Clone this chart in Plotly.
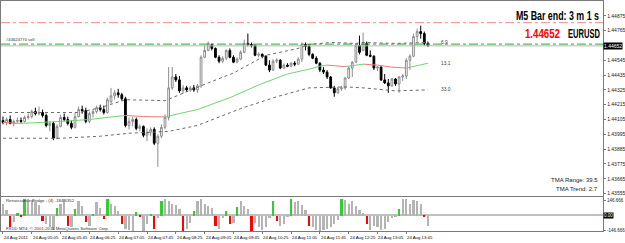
import json
import plotly.graph_objects as go
import numpy as np

# ---------------- data (prices in points, 1e-5) ----------------
open_pts = [144098,144083,144105,144076,144091,144098,144091,144120,144127,144164,
144149,144157,144135,144061,144076,143966,144054,144120,144105,144076,
144047,144127,144179,144171,144091,144149,144164,144193,144179,144157,
144237,144281,144303,144289,144259,144061,144091,144105,144039,144054,
143988,144010,144032,143929,143981,144047,144120,144340,144421,144399,
144318,144340,144325,144340,144325,144355,144567,144618,144662,144633,
144567,144538,144560,144618,144567,144531,144553,144604,144670,144662,
144655,144582,144589,144575,144509,144472,144538,144545,144487,144509,
144501,144523,144516,144553,144662,144648,144589,144560,144523,144472,
144457,144421,144340,144303,144333,144340,144413,144487,144531,144655,
144618,144670,144582,144575,144487,144494,144399,144377,144355,144406,
144369,144421,144428,144545,144575,144721,144758,144743,144670]
high_pts = [144127,144120,144135,144105,144120,144120,144135,144149,144179,144193,
144201,144179,144149,144091,144091,144069,144142,144149,144127,144098,
144157,144201,144208,144193,144164,144179,144208,144215,144208,144267,
144340,144325,144333,144303,144274,144120,144127,144120,144069,144061,
144039,144047,144047,143995,144069,144142,144494,144494,144443,144428,
144362,144355,144355,144362,144369,144582,144655,144684,144670,144640,
144582,144575,144626,144633,144582,144567,144618,144699,144743,144677,
144662,144604,144597,144582,144545,144553,144560,144553,144523,144523,
144531,144538,144567,144677,144677,144662,144597,144575,144531,144494,
144472,144428,144355,144347,144355,144421,144501,144538,144670,144728,
144750,144684,144618,144582,144501,144501,144443,144406,144413,144413,
144428,144443,144560,144589,144743,144780,144802,144758,144684]
low_pts = [144069,144061,144069,144054,144076,144076,144083,144105,144113,144135,
144135,144120,144047,144017,143951,143959,144047,144091,144061,144032,
144039,144120,144149,144076,144076,144120,144149,144164,144142,144149,
144223,144252,144267,144245,144047,144032,144054,144025,144017,143973,
143944,143981,143915,143754,143966,144032,144098,144325,144384,144303,
144296,144311,144311,144311,144303,144340,144560,144611,144618,144560,
144523,144523,144545,144560,144523,144523,144545,144597,144648,144640,
144575,144567,144560,144501,144457,144465,144523,144479,144479,144494,
144494,144501,144509,144531,144618,144575,144553,144516,144457,144443,
144406,144333,144274,144296,144318,144325,144406,144421,144523,144589,
144611,144575,144567,144472,144465,144391,144369,144303,144347,144355,
144303,144391,144406,144472,144567,144677,144706,144655,144648]
close_pts = [144083,144105,144076,144091,144098,144091,144120,144127,144164,144149,
144157,144135,144061,144076,143966,144054,144120,144105,144076,144047,
144127,144179,144171,144091,144149,144164,144193,144179,144157,144252,
144281,144303,144289,144259,144061,144091,144105,144039,144054,143988,
144010,144032,143929,143981,144047,144120,144340,144421,144399,144318,
144340,144325,144340,144325,144355,144567,144618,144670,144633,144567,
144538,144560,144618,144567,144531,144553,144604,144670,144662,144655,
144582,144589,144575,144509,144472,144538,144545,144487,144509,144501,
144523,144516,144553,144662,144648,144589,144560,144523,144472,144457,
144421,144340,144303,144333,144340,144413,144487,144531,144655,144604,
144670,144582,144575,144487,144494,144399,144377,144355,144406,144369,
144421,144428,144545,144575,144721,144758,144743,144670,144652]

hist_vals = [110, 60, -104, -60, 28, -14, 160, 160, 150, 130,
100, -47, -75, -110, -140, 75, 113, 160, -95, -104,
66, 142, 95, -57, -95, 19, 132, 75, -28, 160,
113, 95, 47, -76, -125, -140, -150, 38, -12, -142,
-76, 10, -125, -19, 142, 160, 140, 110, 100, 66,
-150, -125, -66, 47, 140, 160, 110, 90, 70, -95,
-125, -20, 47, -76, -66, 85, 142, 95, 66, -150,
-66, -110, -140, -110, -20, 142, -47, -95, -76, -10,
160, 130, 142, 100, 60, -95, -110, -140, -150, -140,
-125, -110, -76, -40, 160, 150, 110, 142, 95, 60,
30, -76, -140, -95, -104, -140, -125, -60, -20, -10,
66, 160, 160, 110, 150, 140, 110, -14, -95]

mid_idx = [0,4,8,16,24,31,34,39,45,49,54,63,71,79,85,88,90,95,100,104,108,112,115,118]
mid_pts = [144083,144076,144080,144091,144105,144127,144135,144127,144124,144149,144179,144267,
           144362,144443,144479,144501,144509,144498,144516,144509,144494,144487,144505,144523]
up_idx = [0,21,27,34,45,54,57,64,73,82,85,91,98,100,109,118]
up_pts = [144157,144157,144193,144252,144245,144347,144377,144450,144582,144633,144662,144677,
          144670,144677,144670,144677]
lo_idx = [0,16,27,35,46,54,59,66,76,85,95,100,109,118]
lo_pts = [143966,143966,143981,144003,144017,144061,144113,144186,144274,144340,144347,144340,
          144318,144325]
band_labels = ["6.9", "13.1", "33.0"]

price_ticks = [1.44875 - 0.0011 * k for k in range(13)]
time_tick_idx = [0, 8, 16, 24, 32, 40, 48, 56, 64, 72, 80, 88, 96, 104, 112]
time_tick_labels = ["24 Aug 2011", "24 Aug 05:05", "24 Aug 05:45", "24 Aug 06:25", "24 Aug 07:05",
                    "24 Aug 07:45", "24 Aug 08:25", "24 Aug 09:05", "24 Aug 09:45", "24 Aug 10:25",
                    "24 Aug 11:05", "24 Aug 11:45", "24 Aug 12:25", "24 Aug 13:05", "24 Aug 13:45"]
sell_level = 1.44665
red_level = 1.44824
bid = 1.44652
symbol = "EURUSD"
bar_end_text = "M5 Bar end: 3 m 1 s"
tma_range = 39.5
tma_trend = 2.7

# ---------------- build ----------------
S = 1e5
o = np.array(open_pts) / S
h = np.array(high_pts) / S
l = np.array(low_pts) / S
c = np.array(close_pts) / S
n = len(o)
idx = np.arange(n)

W, H = 625, 243
plot_right = 608
main_top, main_bot = 0, 197
sub_top, sub_bot = 198, 233


def py(px):
    return 1 - px / H


fig = go.Figure()

# TMA bands (dotted)
for ii, pp in ((up_idx, up_pts), (lo_idx, lo_pts)):
    fig.add_trace(go.Scatter(x=ii, y=np.array(pp) / S, mode="lines",
                             line=dict(color="#6a6a6a", width=1, dash="dot"),
                             hoverinfo="skip", showlegend=False))

# TMA middle, coloured by slope
gx, gy, rx, ry = [], [], [], []
mp = np.array(mid_pts) / S
for k in range(len(mid_idx) - 1):
    seg_x = [mid_idx[k], mid_idx[k + 1], None]
    seg_y = [mp[k], mp[k + 1], None]
    if mp[k + 1] >= mp[k]:
        gx += seg_x; gy += seg_y
    else:
        rx += seg_x; ry += seg_y
fig.add_trace(go.Scatter(x=gx, y=gy, mode="lines", line=dict(color="#6fd66f", width=1),
                         hoverinfo="skip", showlegend=False))
fig.add_trace(go.Scatter(x=rx, y=ry, mode="lines", line=dict(color="#f27a7a", width=1),
                         hoverinfo="skip", showlegend=False))

# candles
fig.add_trace(go.Candlestick(x=idx, open=o, high=h, low=l, close=c,
                             increasing=dict(line=dict(color="#8c8c8c", width=1), fillcolor="white"),
                             decreasing=dict(line=dict(color="black", width=1), fillcolor="black"),
                             whiskerwidth=0, hoverinfo="skip", showlegend=False))

# histogram
hv = np.array(hist_vals, dtype=float)
cols = []
for k, v in enumerate(hv):
    prev = hv[k - 1] if k > 0 else v
    if v > 0 and prev < 0:
        cols.append("#33cc33")
    elif v < 0 and prev > 0:
        cols.append("#ff0000")
    else:
        cols.append("#b4b4b4")
fig.add_trace(go.Bar(x=idx, y=hv, marker=dict(color=cols, line=dict(width=0)), width=0.62,
                     xaxis="x2", yaxis="y2", hoverinfo="skip", showlegend=False))

# axes
spacing = 3.636
x0 = -2 / spacing
x1 = x0 + plot_right / spacing
ymain = [1.44985 - main_bot * 0.0011 / 15, 1.44985]
tick_text = ["" if abs(v - bid) < 0.0003 else f"{v:.5f}" for v in price_ticks]

fig.update_layout(
    width=W, height=H, margin=dict(l=0, r=0, t=0, b=0),
    paper_bgcolor="white", plot_bgcolor="white",
    font=dict(family="Liberation Sans, Arial, sans-serif", size=6, color="black"),
    bargap=0, showlegend=False,
    xaxis=dict(domain=[0, plot_right / W], range=[x0, x1], anchor="y",
               showticklabels=False, showgrid=False, zeroline=False,
               showline=True, mirror=True, linecolor="#7a7a7a", linewidth=1,
               rangeslider=dict(visible=False)),
    yaxis=dict(domain=[py(main_bot), py(main_top)], range=ymain, side="right",
               tickvals=price_ticks, ticktext=tick_text,
               ticks="outside", ticklen=2, tickcolor="#7a7a7a",
               showgrid=False, zeroline=False, showline=True, mirror=True,
               linecolor="#7a7a7a", linewidth=1, tickfont=dict(size=5, color="#202020")),
    xaxis2=dict(domain=[0, plot_right / W], range=[x0, x1], anchor="y2", matches="x",
                tickvals=time_tick_idx, showticklabels=False, ticks="outside", ticklen=2,
                tickcolor="#7a7a7a", showgrid=False, zeroline=False,
                showline=True, mirror=True, linecolor="#7a7a7a", linewidth=1),
    yaxis2=dict(domain=[py(sub_bot), py(sub_top)], range=[-151.4, 179.8], side="right",
                tickvals=[146.666, -146.666], ticktext=["146.666", "-146.666"],
                ticks="outside", ticklen=2, tickcolor="#7a7a7a",
                showgrid=False, zeroline=True, zerolinecolor="#c0c0c0", zerolinewidth=2,
                showline=True, mirror=True, linecolor="#7a7a7a", linewidth=1,
                tickfont=dict(size=4.5, color="#202020")),
)

# horizontal level lines
fig.add_shape(type="line", xref="x", yref="y", x0=x0, x1=x1, y0=red_level, y1=red_level,
              line=dict(color="#f08a8a", width=1, dash="dashdot"))
fig.add_shape(type="line", xref="x", yref="y", x0=x0, x1=x1, y0=sell_level, y1=sell_level,
              line=dict(color="#2fa82f", width=1, dash="dashdot"))
fig.add_shape(type="line", xref="x", yref="y", x0=x0, x1=x1, y0=bid, y1=bid,
              line=dict(color="#b8b8b8", width=1))

ann = []
# time labels
for ti, tl in zip(time_tick_idx, time_tick_labels):
    ann.append(dict(x=ti, y=py(239), xref="x2", yref="paper", text=tl, showarrow=False,
                    xanchor="left", yanchor="middle", xshift=-1, font=dict(size=4.3)))
# bid box
ann.append(dict(x=plot_right / W, y=bid, xref="paper", yref="y", text=f"{bid:.5f}", showarrow=False,
                xanchor="left", yanchor="middle", bgcolor="black", font=dict(size=5, color="white"),
                borderpad=0))
ann.append(dict(x=plot_right / W, y=0, xref="paper", yref="y2", text="0.00", showarrow=False,
                xanchor="left", yanchor="middle", bgcolor="black", font=dict(size=4.5, color="white"),
                borderpad=0))
# band labels
for lab, pp in zip(band_labels, (up_pts, mid_pts, lo_pts)):
    ann.append(dict(x=n + 2, y=pp[-1] / S, xref="x", yref="y", text=lab, showarrow=False,
                    xanchor="left", yanchor="middle", font=dict(size=4.8, color="#404040")))
# order label
ann.append(dict(x=x0, y=sell_level, xref="x", yref="y", text="#44624770 sell", showarrow=False,
                xanchor="left", yanchor="bottom", xshift=3, font=dict(size=4.2, color="#303030")))

# big info texts: font size picked so the natural width matches the reference,
# then stretched vertically (narrow bold look) by the page script below
bigfam = "Liberation Sans, Arial, sans-serif"
fits = {bar_end_text: [83, 8.84], f"{bid:.5f}": [35, 9.68], symbol: [32, 7.58]}
cap_size = 12.5
ann.append(dict(x=561.5 / W, y=py(15.5), xref="paper", yref="paper", text=bar_end_text,
                showarrow=False, xanchor="center", yanchor="middle",
                font=dict(size=fits[bar_end_text][1], family=bigfam, weight="bold", color="black")))
ann.append(dict(x=546.5 / W, y=py(33), xref="paper", yref="paper", text=f"{bid:.5f}",
                showarrow=False, xanchor="center", yanchor="middle",
                font=dict(size=fits[f"{bid:.5f}"][1], family=bigfam, weight="bold", color="#ff0000")))
ann.append(dict(x=589 / W, y=py(33), xref="paper", yref="paper", text=symbol,
                showarrow=False, xanchor="center", yanchor="middle",
                font=dict(size=fits[symbol][1], family=bigfam, weight="bold", color="black")))
ann.append(dict(x=605 / W, y=py(181), xref="paper", yref="paper", text=f"TMA Range: {tma_range}",
                showarrow=False, xanchor="right", yanchor="middle", font=dict(size=6, color="#202020")))
ann.append(dict(x=605 / W, y=py(190), xref="paper", yref="paper", text=f"TMA Trend: {tma_trend}",
                showarrow=False, xanchor="right", yanchor="middle", font=dict(size=6, color="#202020")))
# sub panel texts
ann.append(dict(x=3 / W, y=py(202), xref="paper", yref="paper", text="Renaissance Bridge - (4) -184.6352",
                showarrow=False, xanchor="left", yanchor="middle", font=dict(size=4.3, color="#303030")))
ann.append(dict(x=3 / W, y=py(230), xref="paper", yref="paper",
                text="FXDD MT4, © 2001-2011 MetaQuotes Software Corp.",
                showarrow=False, xanchor="left", yanchor="middle", font=dict(size=4.3, color="#303030")))
fig.update_layout(annotations=ann)

post = """
var fits = %s, cap = %s;
document.querySelectorAll('g.annotation text.annotation-text').forEach(function(t){
  var fs = parseFloat(t.style.fontSize || '0');
  var f = fits[t.textContent];
  if (f && fs > 7) {
    t.setAttribute('textLength', f[0]);
    t.setAttribute('lengthAdjust', 'spacingAndGlyphs');
    t.style.transformBox = 'fill-box';
    t.style.transformOrigin = 'center';
    t.style.transform = 'scale(1,' + (cap / f[1]).toFixed(3) + ')';
  }
});
""" % (json.dumps(fits), cap_size)

fig.write_html("out.html", post_script=post)
